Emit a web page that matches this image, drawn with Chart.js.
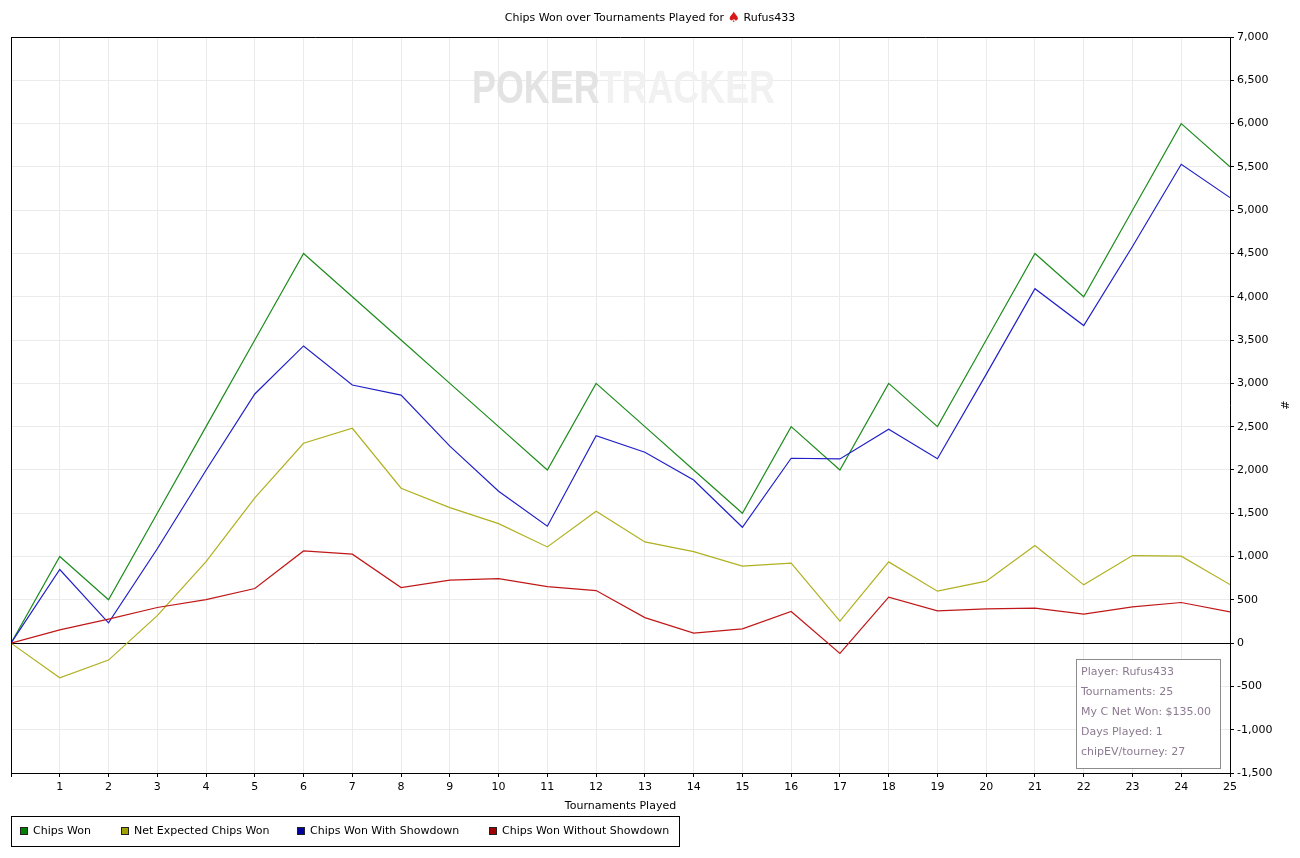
<!DOCTYPE html>
<html>
<head>
<meta charset="utf-8">
<title>Chips Won over Tournaments Played</title>
<script src="https://cdn.jsdelivr.net/npm/chart.js@4.4.1/dist/chart.umd.min.js"></script>
<style>
  html, body { margin: 0; padding: 0; background: #fff; }
</style>
</head>
<body>
<canvas id="chipsChart" width="1300" height="858"></canvas>
<script>
// tournaments played (x values)
const tournaments = [0, 1, 2, 3, 4, 5, 6, 7, 8, 9, 10, 11, 12, 13, 14, 15, 16, 17, 18, 19, 20, 21, 22, 23, 24, 25];

const chipsWon = [0, 1000, 500, 1500, 2500, 3500, 4500, 4000, 3500, 3000, 2500, 2000, 3000, 2500, 2000, 1500, 2500, 2000, 3000, 2500, 3500, 4500, 4000, 5000, 6000, 5500];
const netExpected = [0, -400, -196, 318, 942, 1677, 2308, 2481, 1789, 1565, 1380, 1111, 1523, 1169, 1057, 889, 923, 254, 938, 600, 715, 1126, 673, 1011, 1004, 676];
const withShowdown = [0, 850, 234, 1090, 1996, 2877, 3432, 2981, 2865, 2275, 1754, 1350, 2396, 2204, 1884, 1338, 2135, 2127, 2470, 2130, 3104, 4093, 3667, 4581, 5530, 5145];
const withoutShowdown = [0, 153, 277, 411, 503, 630, 1065, 1027, 642, 727, 745, 653, 607, 295, 115, 165, 365, -120, 531, 373, 396, 404, 335, 419, 469, 361];

const seriesNames = ['Chips Won', 'Net Expected Chips Won', 'Chips Won With Showdown', 'Chips Won Without Showdown'];

const infoLines = ['Player: Rufus433', 'Tournaments: 25', 'My C Net Won: $135.00', 'Days Played: 1', 'chipEV/tourney: 27'];

const FONT = '"DejaVu Sans", Tahoma, sans-serif';

function toPoints(values) {
  return values.map((v, i) => ({ x: tournaments[i], y: v }));
}

const lineColors = ['#1c8c1c', '#b0b020', '#2020c8', '#c01818'];
const swatchColors = ['#008000', '#a0a000', '#0000a0', '#a00000'];

// title with the little red spade
const titlePlugin = {
  id: 'ptTitle',
  afterDraw(chart) {
    const ctx = chart.ctx;
    ctx.save();
    ctx.font = '11px ' + FONT;
    ctx.textBaseline = 'middle';
    const a = 'Chips Won over Tournaments Played for ';
    const b = ' Rufus433';
    const wa = ctx.measureText(a).width;
    const wb = ctx.measureText(b).width;
    ctx.font = '14px ' + FONT;
    const ws = ctx.measureText('\u2660').width;
    const start = 650 - (wa + ws + wb) / 2;
    ctx.font = '11px ' + FONT;
    ctx.fillStyle = '#000';
    ctx.fillText(a, start, 18);
    ctx.font = '14px ' + FONT;
    ctx.fillStyle = '#d81818';
    ctx.fillText('\u2660', start + wa, 18);
    ctx.font = '11px ' + FONT;
    ctx.fillStyle = '#000';
    ctx.fillText(b, start + wa + ws, 18);
    ctx.restore();
  }
};

// faint POKERTRACKER watermark behind the lines
const watermarkPlugin = {
  id: 'watermark',
  beforeDatasetsDraw(chart) {
    const ctx = chart.ctx;
    ctx.save();
    ctx.font = 'bold 46px "Liberation Sans", Arial, sans-serif';
    ctx.textBaseline = 'alphabetic';
    const w1 = ctx.measureText('POKER').width;
    const w2 = ctx.measureText('TRACKER').width;
    const sx = 303 / (w1 + w2);
    ctx.translate(472, 103);
    ctx.scale(sx, 1);
    ctx.fillStyle = '#e3e3e3';
    ctx.fillText('POKER', 0, 0);
    ctx.fillStyle = '#f1f1f1';
    ctx.fillText('TRACKER', w1, 0);
    ctx.restore();
  }
};

// plot frame left side, info box and bottom legend
const framePlugin = {
  id: 'frame',
  afterDraw(chart) {
    const ctx = chart.ctx;
    const area = chart.chartArea;
    ctx.save();
    ctx.strokeStyle = '#000';
    ctx.lineWidth = 1;
    ctx.beginPath();
    ctx.moveTo(Math.round(area.left) + 0.5, area.top);
    ctx.lineTo(Math.round(area.left) + 0.5, area.bottom);
    ctx.stroke();

    // info box
    ctx.fillStyle = '#fff';
    ctx.fillRect(1076, 659, 145, 110);
    ctx.strokeStyle = '#8c8c8c';
    ctx.strokeRect(1076.5, 659.5, 144, 109);
    ctx.font = '11px ' + FONT;
    ctx.fillStyle = '#8c7a90';
    ctx.textBaseline = 'middle';
    infoLines.forEach((t, i) => ctx.fillText(t, 1081, 672 + i * 20));

    // legend
    ctx.strokeStyle = '#000';
    ctx.strokeRect(11.5, 816.5, 668, 30);
    const swatchX = [20, 121, 297, 489];
    const textX = [33, 134, 310, 502];
    seriesNames.forEach((name, i) => {
      ctx.fillStyle = swatchColors[i];
      ctx.fillRect(swatchX[i], 827, 8, 8);
      ctx.strokeStyle = '#222';
      ctx.strokeRect(swatchX[i] + 0.5, 827.5, 7, 7);
      ctx.fillStyle = '#000';
      ctx.fillText(name, textX[i], 831);
    });
    ctx.restore();
  }
};

const ctx = document.getElementById('chipsChart').getContext('2d');

const chipsChart = new Chart(ctx, {
  type: 'line',
  data: {
    datasets: seriesNames.map((name, i) => ({
      label: name,
      data: toPoints([chipsWon, netExpected, withShowdown, withoutShowdown][i]),
      borderColor: lineColors[i],
      backgroundColor: lineColors[i],
      borderWidth: 1.2,
      pointRadius: 0,
      tension: 0,
      fill: false
    })).reverse()
  },
  options: {
    responsive: false,
    animation: false,
    devicePixelRatio: 1,
    layout: { padding: { left: 11, top: 37, right: 0, bottom: 45 } },
    plugins: {
      legend: { display: false },
      title: { display: false },
      tooltip: { enabled: false }
    },
    scales: {
      x: {
        type: 'linear',
        min: 0,
        max: 25,
        ticks: {
          stepSize: 1,
          autoSkip: false,
          maxRotation: 0,
          padding: 4,
          color: '#000',
          font: { family: FONT, size: 11 },
          callback: v => (v === 0 ? '' : v)
        },
        grid: { color: '#ebebeb', tickColor: '#000', tickLength: 4 },
        border: { color: '#000', width: 1 },
        title: {
          display: true,
          text: 'Tournaments Played',
          color: '#000',
          font: { family: FONT, size: 11 },
          padding: { top: 1, bottom: 0 }
        },
        afterFit: scale => { scale.height = 40; }
      },
      y: {
        position: 'right',
        min: -1500,
        max: 7000,
        ticks: {
          stepSize: 500,
          padding: 3,
          color: '#000',
          font: { family: FONT, size: 11 },
          callback: v => v.toLocaleString('en-US')
        },
        grid: {
          color: c => (c.tick && (c.tick.value === 0 || c.tick.value === 7000) ? '#000' : '#ebebeb'),
          tickColor: '#000',
          tickLength: 4
        },
        border: { color: '#000', width: 1 },
        title: {
          display: true,
          text: '#',
          color: '#000',
          font: { family: FONT, size: 11 },
          padding: { top: 10, bottom: 0 }
        },
        afterFit: scale => { scale.width = 70; }
      }
    }
  },
  plugins: [watermarkPlugin, framePlugin, titlePlugin]
});
</script>
</body>
</html>
